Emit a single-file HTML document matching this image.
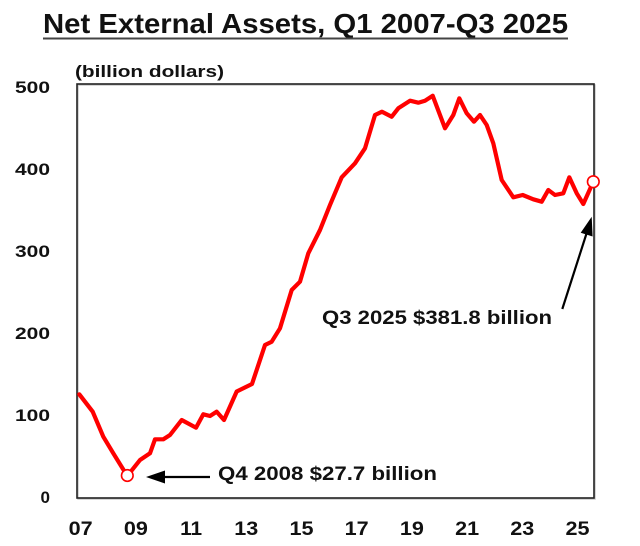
<!DOCTYPE html>
<html>
<head>
<meta charset="utf-8">
<style>
  html,body{margin:0;padding:0;background:#fff;}
  svg{display:block;}
  text{font-family:"Liberation Sans",Arial,sans-serif;font-weight:bold;fill:#111;}
</style>
</head>
<body>
<svg width="640" height="546" viewBox="0 0 640 546" xmlns="http://www.w3.org/2000/svg">
  <!-- Title -->
  <text x="43" y="33" font-size="28" textLength="525" lengthAdjust="spacingAndGlyphs">Net External Assets, Q1 2007-Q3 2025</text>
  <line x1="43" y1="38.5" x2="568" y2="38.5" stroke="#444" stroke-width="2"/>

  <!-- unit label -->
  <text x="75" y="77" font-size="16.5" textLength="149" lengthAdjust="spacingAndGlyphs">(billion dollars)</text>

  <!-- Plot box -->
  <rect x="78" y="85" width="517" height="414" fill="none" stroke="#c8c8c8" stroke-width="1.5"/>
  <rect x="77" y="84" width="517" height="414" fill="none" stroke="#222" stroke-width="1.6"/>

  <!-- Y labels -->
  <g font-size="17" text-anchor="end">
    <text x="50" y="93" textLength="35" lengthAdjust="spacingAndGlyphs">500</text>
    <text x="50" y="175" textLength="35" lengthAdjust="spacingAndGlyphs">400</text>
    <text x="50" y="257" textLength="35" lengthAdjust="spacingAndGlyphs">300</text>
    <text x="50" y="339" textLength="35" lengthAdjust="spacingAndGlyphs">200</text>
    <text x="50" y="421" textLength="35" lengthAdjust="spacingAndGlyphs">100</text>
    <text x="50" y="503">0</text>
  </g>

  <!-- X labels -->
  <g font-size="19" text-anchor="middle">
    <text x="80.7" y="535" textLength="24" lengthAdjust="spacingAndGlyphs">07</text>
    <text x="135.9" y="535" textLength="24" lengthAdjust="spacingAndGlyphs">09</text>
    <text x="191.1" y="535" textLength="22" lengthAdjust="spacingAndGlyphs">11</text>
    <text x="246.3" y="535" textLength="24" lengthAdjust="spacingAndGlyphs">13</text>
    <text x="301.5" y="535" textLength="24" lengthAdjust="spacingAndGlyphs">15</text>
    <text x="356.7" y="535" textLength="24" lengthAdjust="spacingAndGlyphs">17</text>
    <text x="411.9" y="535" textLength="24" lengthAdjust="spacingAndGlyphs">19</text>
    <text x="467.1" y="535" textLength="24" lengthAdjust="spacingAndGlyphs">21</text>
    <text x="522.3" y="535" textLength="24" lengthAdjust="spacingAndGlyphs">23</text>
    <text x="577.5" y="535" textLength="24" lengthAdjust="spacingAndGlyphs">25</text>
  </g>

  <!-- Data line -->
  <polyline fill="none" stroke="#ff0000" stroke-width="4.2" stroke-linejoin="round" stroke-linecap="round"
    points="79.3,394.3 92.7,411.7 103.3,436.7 113.3,453.3 127.3,476 140,460 150,453.3 155,439.3 163.3,439.3 170,435 181.7,420 196,427.7 203.3,414.3 210,416 216.7,411.7 224,420 236.7,391.5 252,384 265,345 271.7,341.7 280,328.3 291.7,290 300,281.7 308.3,253.3 320,230 330,205 341.7,177.3 355,163.3 365,148.3 375,115 382,111.7 391.7,116.7 398.3,108.3 410,100.7 418.3,102.7 425,100.7 432.7,95.7 445,128.3 453.3,115 459.3,98.3 466.7,113.3 474,121.7 480,115 486.7,125 493.3,143.3 501.7,180 513.3,197.3 522.7,195 533.3,199.3 541.7,201.7 548.3,190 555,195 563.3,193.3 569.3,177.3 576.7,193.3 583.3,204 593.3,181.7"/>

  <!-- Markers -->
  <circle cx="127.3" cy="475.5" r="5.8" fill="#fff" stroke="#ff0000" stroke-width="1.6"/>
  <circle cx="593.3" cy="181.7" r="5.8" fill="#fff" stroke="#ff0000" stroke-width="1.6"/>

  <!-- Annotation 1 -->
  <line x1="210" y1="477" x2="160" y2="477" stroke="#000" stroke-width="2.2"/>
  <polygon points="146,477 165,470.5 165,483.5" fill="#000"/>
  <text x="218" y="480" font-size="19" textLength="219" lengthAdjust="spacingAndGlyphs">Q4  2008 $27.7 billion</text>

  <!-- Annotation 2 -->
  <line x1="562.3" y1="309" x2="587" y2="232" stroke="#000" stroke-width="2.2"/>
  <polygon points="591.7,216.7 592.6,236.5 580.7,232.7" fill="#000"/>
  <text x="322" y="324" font-size="19" textLength="230" lengthAdjust="spacingAndGlyphs">Q3  2025 $381.8 billion</text>
</svg>
</body>
</html>
